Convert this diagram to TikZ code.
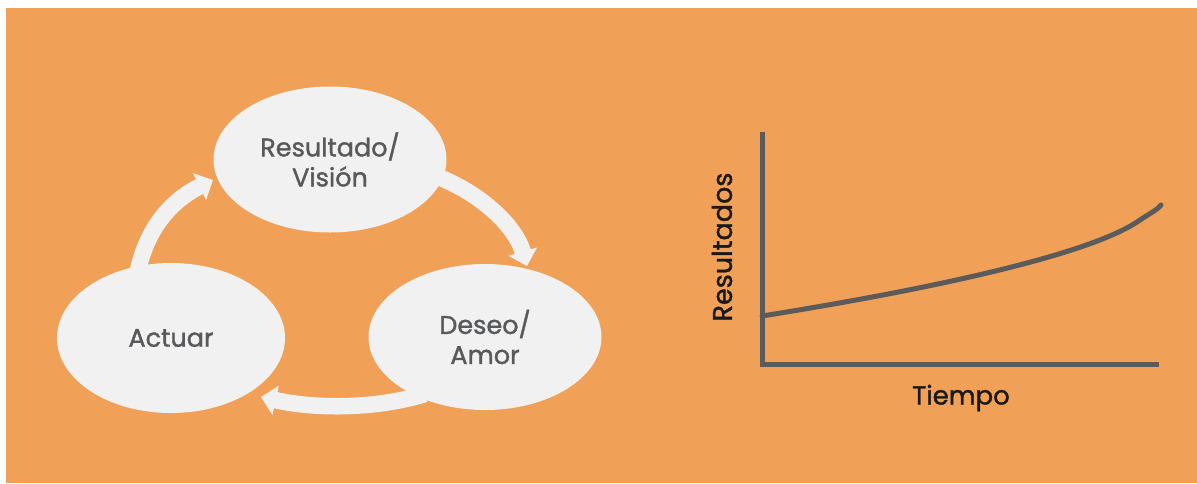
\documentclass[tikz,border=0pt]{standalone}
\usepackage{fontspec}
\setmainfont{Poppins}
\newfontfamily\medfont[FakeBold=1.3]{Poppins}
\usetikzlibrary{shapes.geometric,arrows.meta}
\definecolor{bgorange}{HTML}{F0A057}
\definecolor{bubble}{HTML}{F1F1F1}
\definecolor{txtgray}{HTML}{58595B}
\definecolor{axisgray}{HTML}{5B5B5B}
\tikzset{
  bubblenode/.style={ellipse, fill=bubble, inner sep=0pt, minimum width=233pt, minimum height=146pt,
    text=txtgray, align=center, font=\medfont\fontsize{25.5}{30}\selectfont},
  cyclearrow/.style={draw=bubble, line width=16.5pt,
    -{Triangle[length=15pt,width=29pt]}},
  axisline/.style={draw=axisgray, line width=5pt},
  axislabel/.style={text=black!90, inner sep=0pt}
}
\begin{document}
\begin{tikzpicture}[x=1pt,y=-1pt]
\useasboundingbox (0,0) rectangle (1197,483);
\fill[white] (0,0) rectangle (1197,483);
\fill[bgorange] (6,8) rectangle (1197,483);
% arrows
\coordinate (a1s) at (137,275);
\coordinate (a1e) at (213,180);
\coordinate (a2s) at (436,176);
\coordinate (a2e) at (527,266);
\coordinate (a3s) at (425,394);
\coordinate (a3e) at (261,397);
\draw[cyclearrow] (a1s) .. controls (146,228) and (172,200) .. (a1e);
\draw[cyclearrow] (a2s) .. controls (480,193) and (515,225) .. (a2e);
\draw[cyclearrow] (a3s) .. controls (380,408) and (320,410) .. (a3e);
% bubbles
\node[bubblenode] (res) at (330,159.5) {Resultado/\\Visión};
\node[bubblenode] (des) at (485,337) {Deseo/\\Amor};
\node[bubblenode, minimum width=228pt, minimum height=150pt] (act) at (171,338) {Actuar};
% chart
\coordinate (ytop) at (762,132);
\coordinate (orig) at (762,364);
\coordinate (xend) at (1159,364);
\draw[axisline] (ytop) -- (orig) -- (xend);
\coordinate (c0) at (762,316);
\coordinate (c1) at (1140,220);
\coordinate (c2) at (1161,205);
\draw[axisline, line cap=round] (c0) .. controls (950,286) and (1095,252) .. (c1) .. controls (1152,212) and (1157,210) .. (c2);
\node[axislabel, rotate=90, font=\medfont\fontsize{27}{30}\selectfont] (ylab) at (722,247) {Resultados};
\node[axislabel, font=\medfont\fontsize{26}{30}\selectfont] (xlab) at (961,398) {Tiempo};
\end{tikzpicture}
\end{document}
